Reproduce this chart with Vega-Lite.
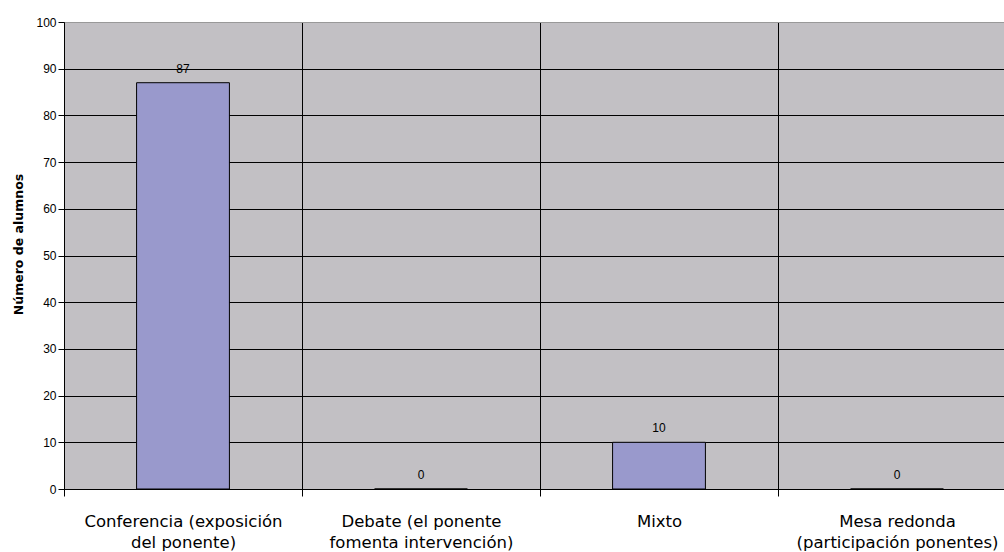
{
  "$schema": "https://vega.github.io/schema/vega-lite/v6.json",
  "autosize": "none",
  "padding": {"left": 64, "top": 22, "right": 0, "bottom": 63},
  "width": 952,
  "height": 467,
  "background": "white",
  "config": {
    "view": {"fill": "#C2C0C4", "stroke": null},
    "font": "Liberation Sans"
  },
  "data": {
    "values": [
      {"cat": "Conferencia (exposición|del ponente)", "n": 87},
      {"cat": "Debate (el ponente|fomenta intervención)", "n": 0},
      {"cat": "Mixto", "n": 10},
      {"cat": "Mesa redonda|(participación ponentes)", "n": 0}
    ]
  },
  "encoding": {
    "x": {
      "field": "cat",
      "type": "nominal",
      "sort": null,
      "scale": {"paddingInner": 0, "paddingOuter": 0},
      "axis": {
        "title": null,
        "labelAngle": 0,
        "labelExpr": "isValid(datum.value) ? split(datum.value, '|') : ''",
        "labelFont": "DejaVu Sans",
        "labelFontSize": 16.5,
        "labelLimit": 0,
        "labelColor": "#000",
        "labelPadding": 17,
        "labelLineHeight": 21,
        "labelOverlap": false,
        "tickBand": "extent",
        "tickSize": 7,
        "tickColor": "#000",
        "domainColor": "#000",
        "grid": true,
        "gridColor": "#000",
        "gridWidth": 1
      }
    },
    "y": {
      "field": "n",
      "type": "quantitative",
      "scale": {"domain": [0, 100], "nice": false},
      "axis": {
        "title": "Número de alumnos",
        "titleFont": "DejaVu Sans",
        "titleFontSize": 12.5,
        "titleFontWeight": "bold",
        "titleColor": "#000",
        "titleX": -46,
        "titleY": 222,
        "titleAlign": "center",
        "titleBaseline": "middle",
        "values": [0, 10, 20, 30, 40, 50, 60, 70, 80, 90, 100],
        "labelFont": "Liberation Sans",
        "labelFontSize": 12,
        "labelColor": "#000",
        "labelPadding": 2,
        "tickSize": 6,
        "tickColor": "#000",
        "domainColor": "#000",
        "grid": true,
        "gridColor": {"condition": {"test": "datum.value == 100", "value": "#999999"}, "value": "#000"},
        "gridWidth": 1
      }
    }
  },
  "layer": [
    {
      "mark": {"type": "bar", "width": {"band": 0.39}, "fill": "#9999CC", "stroke": "#000", "strokeWidth": 1}
    },
    {
      "mark": {"type": "text", "dy": -7, "font": "Liberation Sans", "fontSize": 12, "color": "#000", "baseline": "bottom"},
      "encoding": {"text": {"field": "n", "type": "quantitative"}}
    }
  ]
}
